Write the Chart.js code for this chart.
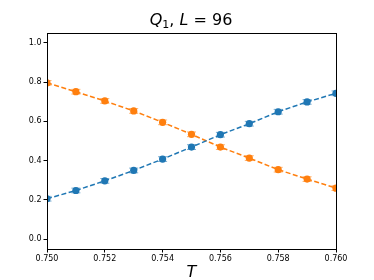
<!DOCTYPE html>
<html>
<head>
<meta charset="utf-8">
<script src="https://cdn.jsdelivr.net/npm/chart.js@4"></script>
<style>
  html, body { margin: 0; padding: 0; background: #fff; }
  #wrap { position: relative; width: 374px; height: 280px; }
  #title {
    position: absolute; left: 91px; width: 200px; top: 10px;
    text-align: center; font-family: "DejaVu Sans", sans-serif; font-size: 16px; color: #000;
    line-height: 20px;
  }
  #title sub { font-size: 11px; vertical-align: -3px; line-height: 0; }
</style>
</head>
<body>
<div id="wrap">
  <canvas id="chart" width="374" height="280"></canvas>
  <div id="title"><i>Q</i><sub>1</sub>, <i>L</i> = 96</div>
</div>
<script>
const temps = [0.750, 0.751, 0.752, 0.753, 0.754, 0.755, 0.756, 0.757, 0.758, 0.759, 0.760];
const blueValues = [0.206, 0.248, 0.297, 0.350, 0.408, 0.469, 0.532, 0.588, 0.649, 0.699, 0.743];
const blueErrors = [0.012, 0.012, 0.012, 0.012, 0.012, 0.012, 0.012, 0.012, 0.012, 0.012, 0.012];
const orangeValues = [0.796, 0.751, 0.704, 0.653, 0.595, 0.534, 0.469, 0.413, 0.354, 0.306, 0.260];
const orangeErrors = [0.012, 0.012, 0.012, 0.012, 0.012, 0.012, 0.012, 0.012, 0.012, 0.012, 0.012];
const xTicks = [0.750, 0.752, 0.754, 0.756, 0.758, 0.760];
const yTicks = [0.0, 0.2, 0.4, 0.6, 0.8, 1.0];

const BLUE = "#1f77b4";
const ORANGE = "#ff7f0e";

function points(values) {
    return temps.map((t, i) => ({ x: t, y: values[i] }));
}

// error bars with caps, drawn through the scales
const errorBars = {
    id: "errorBars",
    beforeDatasetsDraw(chart) {
        const ctx = chart.ctx;
        const area = chart.chartArea;
        const ys = chart.scales.y;
        ctx.save();
        ctx.beginPath();
        ctx.rect(area.left, area.top, area.right - area.left, area.bottom - area.top);
        ctx.clip();
        chart.data.datasets.forEach((ds, di) => {
            const meta = chart.getDatasetMeta(di);
            ctx.strokeStyle = ds.errColor;
            ctx.lineWidth = 1;
            meta.data.forEach((pt, i) => {
                const v = ds.data[i].y;
                const e = ds.errors[i];
                const top = ys.getPixelForValue(v + e);
                const bot = ys.getPixelForValue(v - e);
                ctx.beginPath();
                ctx.moveTo(pt.x, top); ctx.lineTo(pt.x, bot);
                ctx.moveTo(pt.x - 4.5, top); ctx.lineTo(pt.x + 4.5, top);
                ctx.moveTo(pt.x - 4.5, bot); ctx.lineTo(pt.x + 4.5, bot);
                ctx.stroke();
            });
        });
        ctx.restore();
    }
};

// top and right spines
const frame = {
    id: "frame",
    afterDraw(chart) {
        const { ctx, chartArea: a } = chart;
        ctx.save();
        ctx.strokeStyle = "#000";
        ctx.lineWidth = 1;
        ctx.strokeRect(Math.round(a.left) + 0.5, Math.round(a.top) + 0.5,
            Math.round(a.right - a.left), Math.round(a.bottom - a.top));
        ctx.restore();
    }
};

const tickFont = { family: "DejaVu Sans", size: 8 };

new Chart(document.getElementById("chart").getContext("2d"), {
    type: "line",
    data: {
        datasets: [
            {
                data: points(blueValues),
                errors: blueErrors,
                errColor: "rgba(31,119,180,0.6)",
                borderColor: BLUE,
                backgroundColor: BLUE,
                borderWidth: 1.5,
                borderDash: [5, 2.5],
                pointRadius: 3.6,
                pointBorderWidth: 0,
                clip: 0,
            },
            {
                data: points(orangeValues),
                errors: orangeErrors,
                errColor: "rgba(255,127,14,0.6)",
                borderColor: ORANGE,
                backgroundColor: ORANGE,
                borderWidth: 1.5,
                borderDash: [5, 2.5],
                pointRadius: 3.6,
                pointBorderWidth: 0,
                clip: 0,
            },
        ],
    },
    options: {
        responsive: false,
        animation: false,
        layout: { padding: { left: 0, right: 38, top: 33, bottom: 0 } },
        plugins: { legend: { display: false }, tooltip: { enabled: false }, title: { display: false } },
        scales: {
            x: {
                type: "linear",
                min: 0.750,
                max: 0.760,
                afterBuildTicks: (axis) => { axis.ticks = xTicks.map((v) => ({ value: v })); },
                afterFit: (axis) => { axis.height = 31; },
                ticks: { font: tickFont, color: "#000", padding: 2, maxRotation: 0, callback: (v) => v.toFixed(3) },
                grid: { drawOnChartArea: false, color: "#000", tickLength: 3.5 },
                border: { color: "#000" },
                title: {
                    display: true, text: "T", color: "#000", padding: 0,
                    font: { family: "DejaVu Sans", size: 16, style: "italic", lineHeight: 0.85 },
                },
            },
            y: {
                type: "linear",
                min: -0.05,
                max: 1.05,
                afterBuildTicks: (axis) => { axis.ticks = yTicks.map((v) => ({ value: v })); },
                afterFit: (axis) => { axis.width = 47; },
                ticks: { font: tickFont, color: "#000", padding: 2, callback: (v) => v.toFixed(1) },
                grid: { drawOnChartArea: false, color: "#000", tickLength: 3.5 },
                border: { color: "#000" },
            },
        },
    },
    plugins: [errorBars, frame],
});
</script>
</body>
</html>
